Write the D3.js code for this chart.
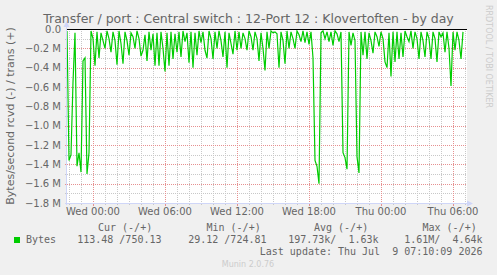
<!DOCTYPE html>
<html>
<head>
<meta charset="utf-8">
<script src="https://cdn.jsdelivr.net/npm/d3@7"></script>
<style>
  body { margin: 0; background: #f0f0f0; }
  svg { display: block; }
  text { white-space: pre; }
</style>
</head>
<body>
<svg></svg>
<script>
// graph size, munin style: 400px plot, 300s per pixel
const width = 497,
  height = 275,
  plot = { left: 67, right: 467, top: 29, bottom: 203 };

const titleText = "Transfer / port : Central switch : 12-Port 12 : Klovertoften - by day";
const yAxisTitle = "Bytes/second rcvd (-) / trans (+)";

// time window (UTC), end = last update
const endTime = Date.UTC(2026, 6, 9, 7, 10, 9);
const startTime = endTime - 120000 * 1000;
const stepSeconds = 600;

// received bytes/s, in M, one value every 10 minutes (drawn as negative)
const rcvdM = [
  0.02, 1.36, 1.30, 0.55, 0.04, 1.42, 1.28, 1.48, 0.33, 0.30,
  1.50, 1.28, 0.02, 0.10, 0.38, 0.03, 0.30, 0.04, 0.12, 0.20,
  0.02, 0.10, 0.24, 0.03, 0.12, 0.37, 0.02, 0.15, 0.36, 0.03,
  0.12, 0.27, 0.04, 0.08, 0.20, 0.02, 0.10, 0.28, 0.22, 0.06,
  0.33, 0.03, 0.22, 0.05, 0.38, 0.04, 0.38, 0.03, 0.20, 0.44,
  0.04, 0.38, 0.03, 0.31, 0.05, 0.24, 0.03, 0.29, 0.02, 0.13,
  0.04, 0.35, 0.03, 0.40, 0.04, 0.27, 0.02, 0.14, 0.03, 0.22,
  0.30, 0.02, 0.10, 0.31, 0.03, 0.20, 0.02, 0.12, 0.29, 0.03,
  0.40, 0.04, 0.15, 0.26, 0.02, 0.22, 0.03, 0.20, 0.04, 0.10,
  0.22, 0.02, 0.08, 0.22, 0.03, 0.10, 0.33, 0.04, 0.20, 0.43,
  0.03, 0.20, 0.02, 0.04, 0.03, 0.05, 0.40, 0.03, 0.12, 0.36,
  0.02, 0.20, 0.03, 0.10, 0.20, 0.02, 0.06, 0.13, 0.02, 0.14,
  0.03, 0.16, 0.03, 0.30, 1.36, 1.42, 1.60, 0.04, 0.02, 0.10,
  0.03, 0.13, 0.03, 0.17, 0.02, 0.05, 0.13, 0.03, 1.28, 1.33,
  1.45, 0.03, 0.17, 0.04, 0.12, 1.32, 1.49, 0.03, 0.27, 0.03,
  0.31, 0.04, 0.12, 0.25, 0.03, 0.08, 0.18, 0.03, 0.10, 0.34,
  0.40, 0.04, 0.49, 0.03, 0.34, 0.03, 0.31, 0.04, 0.29, 0.02,
  0.08, 0.13, 0.02, 0.20, 0.03, 0.10, 0.31, 0.03, 0.12, 0.29,
  0.03, 0.10, 0.31, 0.03, 0.10, 0.34, 0.03, 0.08, 0.04, 0.24,
  0.03, 0.20, 0.59, 0.03, 0.22, 0.03, 0.12, 0.31, 0.03
];

const yTicks = [0, -0.2e6, -0.4e6, -0.6e6, -0.8e6, -1.0e6, -1.2e6, -1.4e6, -1.6e6, -1.8e6];

const legendName = "Bytes";
const legendHeaders = ["Cur (-/+)", "Min (-/+)", "Avg (-/+)", "Max (-/+)"];
const legendValues = ["113.48 /750.13", "29.12 /724.81", "197.73k/  1.63k", "1.61M/  4.64k"];
const lastUpdate = "Last update: Thu Jul  9 07:10:09 2026";
const footer = "Munin 2.0.76";
const watermark = "RRDTOOL / TOBI OETIKER";

const fontColor = "#666666",
  axisColor = "#cfd6f8",
  lineColor = "#00cc00";

const svg = d3.select("svg")
  .attr("width", width)
  .attr("height", height)
  .style("font-family", "'DejaVu Sans', sans-serif");

svg.append("rect").attr("width", width).attr("height", height).attr("fill", "#f0f0f0");

const data = rcvdM.map((v, i) => ({ t: new Date(startTime + i * stepSeconds * 1000), v: -v * 1e6 }));

const x = d3.scaleUtc().domain([startTime, endTime]).range([plot.left, plot.right]);
const y = d3.scaleLinear().domain([-1.8e6, 0]).range([plot.bottom, plot.top]);

// canvas
svg.append("rect")
  .attr("x", plot.left).attr("y", plot.top)
  .attr("width", plot.right - plot.left).attr("height", plot.bottom - plot.top)
  .attr("fill", "#ffffff");

const grid = svg.append("g");
const px = v => Math.round(v) + 0.5;

const hours = d3.utcHour.every(1).range(new Date(startTime), new Date(endTime));
const xTicks = d3.utcHour.every(6).range(new Date(startTime), new Date(endTime));

// minor grid
d3.range(-1.7e6, 0, 0.1e6).forEach(v => {
  grid.append("line")
    .attr("x1", plot.left).attr("x2", plot.right)
    .attr("y1", px(y(v))).attr("y2", px(y(v)))
    .attr("stroke", "#c8c8c8").attr("stroke-dasharray", "1,1");
  grid.append("line")
    .attr("x1", plot.left - 2).attr("x2", plot.left)
    .attr("y1", px(y(v))).attr("y2", px(y(v)))
    .attr("stroke", "#c8c8c8");
});
hours.forEach(t => {
  grid.append("line")
    .attr("x1", px(x(t))).attr("x2", px(x(t)))
    .attr("y1", plot.top).attr("y2", plot.bottom)
    .attr("stroke", "#c8c8c8").attr("stroke-dasharray", "1,1");
  grid.append("line")
    .attr("x1", px(x(t))).attr("x2", px(x(t)))
    .attr("y1", plot.bottom).attr("y2", plot.bottom + 2)
    .attr("stroke", "#c8c8c8");
});

// major grid
yTicks.filter(v => v !== 0).forEach(v => {
  grid.append("line")
    .attr("x1", plot.left).attr("x2", plot.right)
    .attr("y1", px(y(v))).attr("y2", px(y(v)))
    .attr("stroke", "#e69090").attr("stroke-dasharray", "1,1");
  grid.append("line")
    .attr("x1", plot.left - 2).attr("x2", plot.left)
    .attr("y1", px(y(v))).attr("y2", px(y(v)))
    .attr("stroke", "#e69090");
});
xTicks.forEach(t => {
  grid.append("line")
    .attr("x1", px(x(t))).attr("x2", px(x(t)))
    .attr("y1", plot.top).attr("y2", plot.bottom)
    .attr("stroke", "#e69090").attr("stroke-dasharray", "1,1");
  grid.append("line")
    .attr("x1", px(x(t))).attr("x2", px(x(t)))
    .attr("y1", plot.bottom).attr("y2", plot.bottom + 3)
    .attr("stroke", "#e69090");
});

// y tick labels
svg.append("g").selectAll("text")
  .data(yTicks)
  .join("text")
  .attr("x", 61)
  .attr("y", d => y(d) + 3.5)
  .attr("text-anchor", "end")
  .attr("font-size", 10)
  .attr("fill", fontColor)
  .text(d => d === 0 ? "0.0" : d3.format(".1f")(d / 1e6) + " M");

// x tick labels
const fmt = d3.utcFormat("%a %H:%M");
svg.append("g").selectAll("text")
  .data(xTicks)
  .join("text")
  .attr("x", d => x(d))
  .attr("y", 215)
  .attr("text-anchor", "middle")
  .attr("font-size", 10)
  .attr("fill", fontColor)
  .text(d => fmt(d));

// data line
svg.append("path")
  .datum(data)
  .attr("fill", "none")
  .attr("stroke", lineColor)
  .attr("stroke-width", 1.2)
  .attr("d", d3.line().x(d => x(d.t)).y(d => y(d.v)));

// zero line
svg.append("line")
  .attr("x1", plot.left).attr("x2", plot.right)
  .attr("y1", px(y(0))).attr("y2", px(y(0)))
  .attr("stroke", "#000");

// axes + arrows
svg.append("line")
  .attr("x1", plot.left - 0.5).attr("x2", plot.left - 0.5)
  .attr("y1", 24).attr("y2", plot.bottom + 2)
  .attr("stroke", axisColor);
svg.append("line")
  .attr("x1", plot.left - 2).attr("x2", plot.right + 3)
  .attr("y1", plot.bottom + 0.5).attr("y2", plot.bottom + 0.5)
  .attr("stroke", axisColor);
svg.append("path")
  .attr("d", `M${plot.left - 3.5},27 L${plot.left + 2.5},27 L${plot.left - 0.5},21 Z`)
  .attr("fill", axisColor);
svg.append("path")
  .attr("d", `M${plot.right},${plot.bottom - 2.5} L${plot.right},${plot.bottom + 3.5} L${plot.right + 6},${plot.bottom + 0.5} Z`)
  .attr("fill", axisColor);

// title
svg.append("text")
  .attr("x", 248.5)
  .attr("y", 22.5)
  .attr("text-anchor", "middle")
  .attr("font-size", 12.5)
  .attr("fill", fontColor)
  .text(titleText);

// y axis title
svg.append("text")
  .attr("transform", `translate(14,${(plot.top + plot.bottom) / 2}) rotate(-90)`)
  .attr("text-anchor", "middle")
  .attr("font-size", 11)
  .attr("fill", fontColor)
  .text(yAxisTitle);

// watermark
svg.append("text")
  .attr("transform", "translate(486,5) rotate(90)")
  .attr("font-size", 8)
  .attr("fill", "#cccccc")
  .text(watermark);

// legend
const mono = "'DejaVu Sans Mono', monospace";
svg.append("rect")
  .attr("x", 14).attr("y", 237).attr("width", 6).attr("height", 6)
  .attr("fill", lineColor);
svg.append("text")
  .attr("x", 26).attr("y", 243)
  .attr("font-family", mono).attr("font-size", 10).attr("fill", fontColor)
  .text(legendName);

const headerX = [98, 206.5, 314, 422.5];
const valueEnd = [161.5, 266.5, 378.5, 482.5];
legendHeaders.forEach((h, i) => {
  svg.append("text")
    .attr("x", headerX[i]).attr("y", 231)
    .attr("font-family", mono).attr("font-size", 10).attr("fill", fontColor)
    .text(h);
  svg.append("text")
    .attr("x", valueEnd[i]).attr("y", 243)
    .attr("text-anchor", "end")
    .attr("font-family", mono).attr("font-size", 10).attr("fill", fontColor)
    .text(legendValues[i]);
});

svg.append("text")
  .attr("x", 482.5).attr("y", 255)
  .attr("text-anchor", "end")
  .attr("font-family", mono).attr("font-size", 10).attr("fill", fontColor)
  .text(lastUpdate);

svg.append("text")
  .attr("x", 248).attr("y", 267)
  .attr("text-anchor", "middle")
  .attr("font-size", 8)
  .attr("fill", "#cccccc")
  .text(footer);
</script>
</body>
</html>
